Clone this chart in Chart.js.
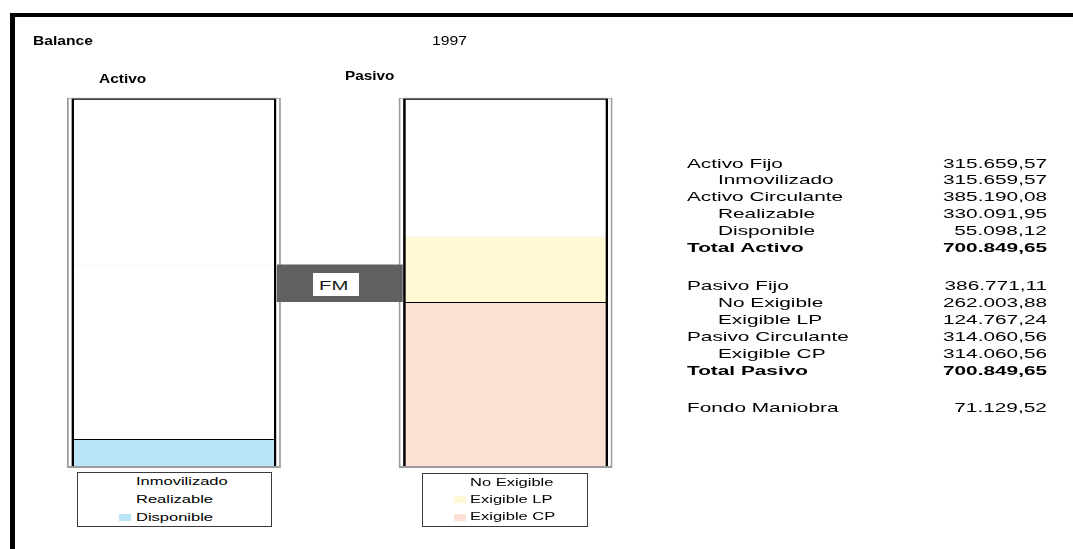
<!DOCTYPE html>
<html>
<head>
<meta charset="utf-8">
<script src="https://cdn.jsdelivr.net/npm/chart.js@4.4.1/dist/chart.umd.min.js"></script>
<style>
  html, body { margin: 0; padding: 0; background: #ffffff; }
  #page { position: relative; width: 1073px; height: 549px; overflow: hidden;
          font-family: "Liberation Sans", Arial, Helvetica, sans-serif; color: #000; }
  #c { position: absolute; left: 0; top: 0; }
  .t { position: absolute; white-space: nowrap; line-height: 1; }
  .frameTop { position: absolute; left: 10px; top: 13px; width: 1063px; height: 3.5px; background: #000; }
  .frameLeft { position: absolute; left: 10px; top: 13px; width: 4.5px; height: 536px; background: #000; }
  .legend { position: absolute; border: 1px solid #3a3a3a; background: #fff; box-sizing: border-box; }
  .sw { position: absolute; width: 12px; height: 7px; }
  #fm { position: absolute; background: #fff; width: 46px; height: 23px; }
</style>
</head>
<body>
<div id="page">
  <div class="frameTop"></div>
  <div class="frameLeft"></div>
  <canvas id="c" width="1073" height="549"></canvas>
  <div id="texts"></div>
  <div id="fm"></div>
</div>
<script>
// ---------------- data ----------------
const categories = ['Activo', 'FM', 'Pasivo'];

const activoLabels = ['Inmovilizado', 'Realizable', 'Disponible'];
const activoValues = [315659.57, 330091.95, 55098.12];
const activoColors = ['#FFFFFF', '#FFFFFF', '#BAE4F8'];

const pasivoLabels = ['No Exigible', 'Exigible LP', 'Exigible CP'];
const pasivoValues = [262003.88, 124767.24, 314060.56];
const pasivoColors = ['#FFFFFF', '#FFFAD4', '#FDE0D4'];

const fondoManiobra = 71129.52;
const fmLabel = 'FM';

const titleText = 'Balance';
const yearText = '1997';

const tableLabels = ['Activo Fijo', 'Inmovilizado', 'Activo Circulante', 'Realizable', 'Disponible', 'Total Activo',
                     'Pasivo Fijo', 'No Exigible', 'Exigible LP', 'Pasivo Circulante', 'Exigible CP', 'Total Pasivo',
                     'Fondo Maniobra'];
const tableValues = [315659.57, 315659.57, 385190.08, 330091.95, 55098.12, 700849.65,
                     386771.11, 262003.88, 124767.24, 314060.56, 314060.56, 700849.65,
                     71129.52];
const tableIndent = [0, 1, 0, 1, 1, 0, 0, 1, 1, 0, 1, 0, 0];
const tableBold   = [0, 0, 0, 0, 0, 1, 0, 0, 0, 0, 0, 1, 0];

// ---------------- helpers ----------------
const sum = a => a.reduce((s, v) => s + v, 0);
function fmtES(v) {
  const neg = v < 0; v = Math.abs(v);
  const parts = v.toFixed(2).split('.');
  const intPart = parts[0].replace(/\B(?=(\d{3})+(?!\d))/g, '.');
  return (neg ? '-' : '') + intPart + ',' + parts[1];
}
// stacked ranges, bottom segment is the last one in the list
function ranges(values) {
  const out = []; let acc = 0;
  for (let i = values.length - 1; i >= 0; i--) { const s = acc; acc += values[i]; out[i] = [s, acc]; }
  return out;
}
const texts = document.getElementById('texts');
function put(str, x, baseline, size, opts) {
  opts = opts || {};
  const d = document.createElement('div');
  d.className = 't';
  d.textContent = str;
  d.style.fontSize = size + 'px';
  if (opts.bold) d.style.fontWeight = 'bold';
  d.style.top = (baseline - 0.8465 * size) + 'px';
  const sx = opts.sx || 1;
  if (opts.right) {
    d.style.right = (1073 - x) + 'px';
    d.style.transformOrigin = 'right top';
  } else {
    d.style.left = x + 'px';
    d.style.transformOrigin = 'left top';
  }
  d.style.transform = 'scaleX(' + sx + ')';
  if (opts.color) d.style.color = opts.color;
  (opts.parent || texts).appendChild(d);
  return d;
}

// ---------------- chart ----------------
const totalActivo = sum(activoValues);
const totalPasivo = sum(pasivoValues);
const aR = ranges(activoValues);
const pR = ranges(pasivoValues);
const topBorder = ['rgba(0,0,0,0)', '#ECECEC', '#000000'];
const topWidth = [0, 1, 1];

const datasets = [];
activoLabels.forEach((lab, i) => {
  datasets.push({
    label: lab, data: categories.map((c, j) => j === 0 ? aR[i] : null),
    backgroundColor: activoColors[i], borderColor: topBorder[i],
    borderWidth: { top: topWidth[i], left: 0, right: 0, bottom: 0 }, borderSkipped: false,
    barThickness: 200, order: 4, clip: false
  });
});
pasivoLabels.forEach((lab, i) => {
  datasets.push({
    label: lab, data: categories.map((c, j) => j === 2 ? pR[i] : null),
    backgroundColor: pasivoColors[i], borderColor: topBorder[i],
    borderWidth: { top: topWidth[i], left: 0, right: 0, bottom: 0 }, borderSkipped: false,
    barThickness: 202, order: 4, clip: false
  });
});
// inner black frame
datasets.push({
  label: 'marco', data: [[0, totalActivo], null, [0, totalPasivo]],
  backgroundColor: 'rgba(0,0,0,0)', borderColor: '#000000',
  borderWidth: { top: 2, left: 2.6, right: 2.4, bottom: 0 }, borderSkipped: false,
  barThickness: 205, order: 3, clip: false
});
// outer grey frame
datasets.push({
  label: 'borde', data: [[0, totalActivo], null, [0, totalPasivo]],
  backgroundColor: 'rgba(0,0,0,0)', borderColor: '#9C9C9C',
  borderWidth: { top: 1, left: 1.8, right: 1.8, bottom: 2 }, borderSkipped: false,
  barThickness: 214, order: 2, clip: false
});
// working capital (fondo de maniobra)
datasets.push({
  label: fmLabel, data: [null, [pasivoValues[2], pasivoValues[2] + fondoManiobra], null],
  backgroundColor: '#606060', borderWidth: 0, barThickness: 126, order: 1, clip: false
});

const fmPlugin = {
  id: 'fmLabel',
  afterRender(chart) {
    const meta = chart.getDatasetMeta(chart.data.datasets.length - 1);
    const el = meta.data[1];
    if (!el) return;
    const cx = el.x - 4, cy = (el.y + el.base) / 2 + 1;
    const box = document.getElementById('fm');
    box.style.left = (cx - 23) + 'px';
    box.style.top = (cy - 11.5) + 'px';
    if (!box.firstChild) {
      put(fmLabel, 6.3, 17.4, 13, { sx: 1.56, color: '#1c1c1c', parent: box });
    }
  }
};

new Chart(document.getElementById('c'), {
  type: 'bar',
  data: { labels: categories, datasets },
  options: {
    responsive: false, animation: false, devicePixelRatio: 1, events: [],
    inflateAmount: 0,
    datasets: { bar: { clip: false } },
    layout: { padding: { left: 91, right: 1073 - 588.5, top: 97.7, bottom: 549 - 468 } },
    scales: {
      x: { type: 'category', display: false, stacked: true, offset: true, grid: { display: false } },
      y: { display: false, stacked: false, min: 0, max: totalActivo, grid: { display: false } }
    },
    plugins: { legend: { display: false }, tooltip: { enabled: false } }
  },
  plugins: [fmPlugin]
});

// ---------------- titles ----------------
put(titleText, 32.7, 45.3, 13, { bold: true, sx: 1.2 });
put(yearText, 431.7, 45.3, 13, { sx: 1.21 });
put(categories[0], 99.3, 83.3, 13, { bold: true, sx: 1.19 });
put(categories[2], 345, 80, 13, { bold: true, sx: 1.18 });

// ---------------- legends ----------------
function legend(labels, colors, box, swX, txtX, baselines) {
  const d = document.createElement('div');
  d.className = 'legend';
  d.style.left = box[0] + 'px'; d.style.top = box[1] + 'px';
  d.style.width = box[2] + 'px'; d.style.height = box[3] + 'px';
  document.getElementById('page').appendChild(d);
  labels.forEach((lab, i) => {
    const s = document.createElement('div');
    s.className = 'sw';
    s.style.left = (swX - box[0] - 1) + 'px';
    s.style.top = (baselines[i] - 7 - box[1] - 1) + 'px';
    s.style.background = colors[i];
    d.appendChild(s);
    put(lab, txtX - box[0] - 1, baselines[i] - box[1] - 1, 11, { sx: 1.5, parent: d });
  });
}
legend(activoLabels, activoColors, [77, 472, 195, 55], 119.3, 136, [485.5, 503.3, 521.3]);
legend(pasivoLabels, pasivoColors, [422, 473, 166, 54], 454, 470, [486, 503.3, 520.5]);

// ---------------- table ----------------
const rowBase = [167.6, 184.5, 201.4, 218.3, 235.2, 252.1, 289.7, 306.6, 323.7, 340.6, 358, 375.2, 411.8];
tableLabels.forEach((lab, i) => {
  put(lab, tableIndent[i] ? 718.3 : 686.7, rowBase[i], 13, { bold: !!tableBold[i], sx: 1.6 });
  put(fmtES(tableValues[i]), 1046.7, rowBase[i], 13, { bold: !!tableBold[i], sx: 1.6, right: true });
});
</script>
</body>
</html>
